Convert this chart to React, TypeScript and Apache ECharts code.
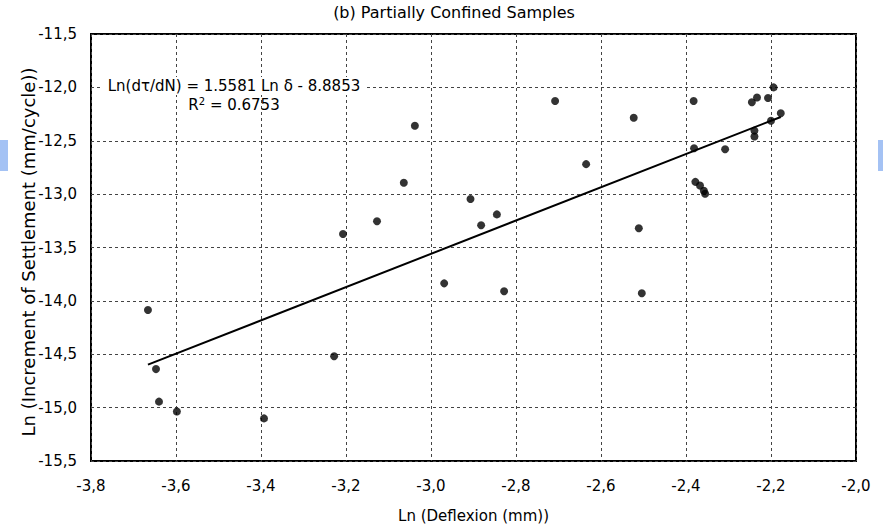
import React, { useEffect, useRef } from "react";
import * as echarts from "echarts";

const titleText = "(b) Partially Confined Samples";
const xName = "Ln (Deflexion (mm))";
const yName = "Ln (Increment of Settlement (mm/cycle))";
const equationText = "Ln(dτ/dN) = 1.5581 Ln δ - 8.8853";
const r2Text = "0.6753";

const deflexion: number[] = [
  -3.666, -3.647, -3.64, -3.598, -3.393, -3.228, -3.207, -3.127, -3.064, -3.038,
  -2.969, -2.907, -2.882, -2.845, -2.828, -2.708, -2.635, -2.523, -2.511, -2.504,
  -2.382, -2.381, -2.378, -2.367, -2.358, -2.355, -2.308, -2.245, -2.233, -2.239,
  -2.239, -2.207, -2.194, -2.2, -2.177,
];
const settlement: number[] = [
  -14.085, -14.639, -14.944, -15.037, -15.101, -14.519, -13.374, -13.254, -12.894, -12.359,
  -13.836, -13.045, -13.291, -13.19, -13.91, -12.128, -12.719, -12.285, -13.319, -13.928,
  -12.128, -12.571, -12.885, -12.92, -12.968, -12.996, -12.58, -12.14, -12.095, -12.405,
  -12.46, -12.1, -12.0, -12.313, -12.243,
];
const trendX: number[] = [-3.666, -2.177];
const trendY: number[] = [-14.597, -12.277];

const FONT = "'DejaVu Sans', sans-serif";
const fmt = (v: number) => v.toFixed(1).replace(".", ",");

export default function App() {
  const ref = useRef<HTMLDivElement>(null);
  useEffect(() => {
    if (!ref.current) return;
    const chart = echarts.init(ref.current, undefined, { renderer: "svg" });
    const points = deflexion.map((x, i) => [x, settlement[i]]);
    const trend = trendX.map((x, i) => [x, trendY[i]]);
    const gridLine = { show: true, lineStyle: { color: "#444", type: [3, 3] as any, width: 1 } };
    chart.setOption({
      animation: false,
      backgroundColor: "#fff",
      textStyle: { fontFamily: FONT },
      grid: { left: 91, top: 34, right: 27, bottom: 61, show: true, borderColor: "#000", borderWidth: 2, backgroundColor: "transparent" },
      xAxis: {
        type: "value",
        min: -3.8,
        max: -2.0,
        interval: 0.2,
        name: xName,
        nameLocation: "middle",
        nameGap: 47,
        nameTextStyle: { fontFamily: FONT, fontSize: 15, color: "#000" },
        axisLine: { show: false },
        axisTick: { show: false },
        axisLabel: { formatter: (v: number) => fmt(v), fontFamily: FONT, fontSize: 15, color: "#000", margin: 17 },
        splitLine: gridLine,
      },
      yAxis: {
        type: "value",
        min: -15.5,
        max: -11.5,
        interval: 0.5,
        axisLine: { show: false },
        axisTick: { show: false },
        axisLabel: { formatter: (v: number) => fmt(v), fontFamily: FONT, fontSize: 15, color: "#000", margin: 14 },
        splitLine: gridLine,
      },
      series: [
        {
          type: "line",
          data: trend,
          symbol: "none",
          lineStyle: { color: "#000", width: 2 },
          z: 3,
        },
        {
          type: "scatter",
          data: points,
          symbol: "circle",
          symbolSize: 8,
          itemStyle: { color: "#000" },
          z: 4,
        },
      ],
      graphic: [
        { type: "rect", z: 100, shape: { x: 0, y: 140, width: 8, height: 31 }, style: { fill: "#a4c2f4" } },
        { type: "rect", z: 100, shape: { x: 878, y: 140, width: 5, height: 31 }, style: { fill: "#a4c2f4" } },
        {
          type: "text",
          z: 100,
          x: 454,
          y: 12,
          style: { text: titleText, fill: "#000", font: `16px ${FONT}`, textAlign: "center", textVerticalAlign: "middle" },
        },
        {
          type: "text",
          z: 100,
          x: 28,
          y: 252,
          rotation: Math.PI / 2,
          style: { text: yName, fill: "#000", font: `18px ${FONT}`, textAlign: "center", textVerticalAlign: "middle" },
        },
        { type: "rect", z: 99, shape: { x: 103, y: 77, width: 263, height: 18 }, style: { fill: "#fff" } },
        {
          type: "text",
          z: 100,
          x: 234,
          y: 86,
          style: { text: equationText, fill: "#000", font: `15px ${FONT}`, textAlign: "center", textVerticalAlign: "middle" },
        },
        {
          type: "text",
          z: 100,
          x: 234,
          y: 105,
          style: {
            text: `R{sup|2} = ${r2Text}`,
            fill: "#000",
            font: `15px ${FONT}`,
            textAlign: "center",
            textVerticalAlign: "middle",
            rich: { sup: { fontSize: 10, fontFamily: FONT, verticalAlign: "top", padding: [0, 0, 8, 0], fill: "#000" } },
          },
        },
      ],
    });
    return () => chart.dispose();
  }, []);
  return (
    <div
      ref={ref}
      style={{ position: "fixed", left: 0, top: 0, width: 883, height: 528, background: "#fff" }}
    />
  );
}
